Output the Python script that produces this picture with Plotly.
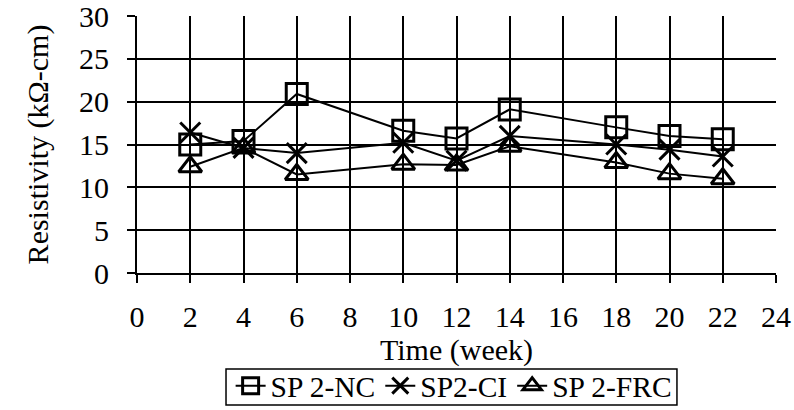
import plotly.graph_objects as go

weeks = [2, 4, 6, 10, 12, 14, 18, 20, 22]
sp2_nc = [15.0, 15.4, 20.9, 16.6, 15.7, 19.1, 17.0, 16.0, 15.6]
sp2_ci = [16.4, 14.6, 14.0, 15.2, 13.1, 16.0, 15.0, 14.4, 13.6]
sp2_frc = [12.4, 14.6, 11.5, 12.7, 12.6, 14.8, 12.9, 11.6, 11.0]

series = [
    ("SP 2-NC", sp2_nc, "square-open", 21),
    ("SP2-CI", sp2_ci, "x-thin-open", 20),
    ("SP 2-FRC", sp2_frc, "triangle-up-open", 20),
]

fig = go.Figure()
for name, vals, sym, size in series:
    fig.add_trace(go.Scatter(
        x=weeks, y=vals, name=name, mode="lines+markers",
        line=dict(color="black", width=2),
        marker=dict(symbol=sym, size=size, color="black",
                    line=dict(color="black", width=3)),
    ))

font = dict(family="Liberation Serif, Times New Roman, serif", size=30, color="black")
legfont = dict(family="Liberation Serif, Times New Roman, serif", size=29.5, color="black")

fig.update_layout(
    width=794, height=410,
    margin=dict(l=137, r=18, t=16, b=137, autoexpand=False),
    paper_bgcolor="white", plot_bgcolor="white",
    font=font,
    showlegend=True,
    legend=dict(
        orientation="h", x=0.4955, xanchor="center", y=-0.3385, yanchor="top",
        bgcolor="rgba(0,0,0,0)", borderwidth=0, font=legfont,
        itemwidth=30, tracegroupgap=0,
    ),
    shapes=[dict(
        type="rect", xref="paper", yref="paper",
        x0=0.1393, x1=0.845, y0=-0.5136, y1=-0.3735,
        line=dict(color="black", width=1.5), fillcolor="rgba(0,0,0,0)",
        layer="above",
    )],
)
fig.update_xaxes(
    range=[0, 24], tickmode="linear", tick0=0, dtick=2,
    showgrid=True, gridcolor="black", gridwidth=1.5,
    showline=True, linecolor="black", linewidth=2,
    ticks="outside", ticklen=8, tickwidth=1.5, tickcolor="black",
    ticklabelstandoff=8, ticklabeloverflow="allow",
    zeroline=False, automargin=False,
    title=dict(text="Time (week)", font=font, standoff=4),
)
fig.update_yaxes(
    range=[0, 30], tickmode="linear", tick0=0, dtick=5,
    showgrid=True, gridcolor="black", gridwidth=1.5,
    showline=True, linecolor="black", linewidth=2,
    ticks="outside", ticklen=8, tickwidth=1.5, tickcolor="black",
    ticklabelstandoff=12, ticklabeloverflow="allow",
    zeroline=False, automargin=False,
    title=dict(text="Resistivity (kΩ-cm)", font=font, standoff=22),
)

fig.write_html("out.html", config={"displayModeBar": False},
               post_script="document.body.style.margin='0px';")
